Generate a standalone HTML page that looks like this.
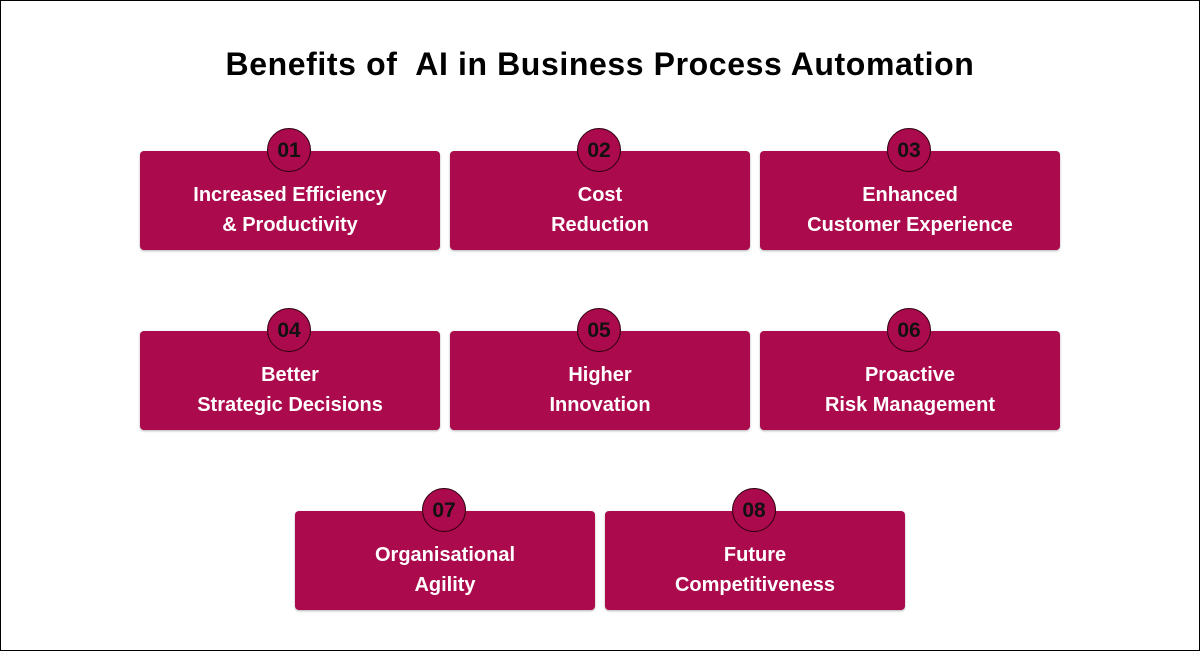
<!DOCTYPE html>
<html><head><meta charset="utf-8"><style>
html,body{margin:0;padding:0}
body{width:1200px;height:651px;position:relative;background:#fff;font-family:"Liberation Sans",sans-serif;overflow:hidden}
.frame{position:absolute;left:0;top:0;width:1198px;height:649px;border:1px solid #000}
h1{position:absolute;left:0;width:1200px;top:45px;margin:0;text-align:center;font-size:32px;font-weight:bold;color:#000;letter-spacing:0.6px;line-height:38px}
.box{position:absolute;width:300px;height:99px;background:#ab0a4c;border-radius:4px;color:#fff;font-weight:bold;font-size:20px;line-height:30px;text-align:center;box-sizing:border-box;padding-top:29px;box-shadow:0 1px 2px rgba(0,0,0,.3)}
.num{position:absolute;left:127px;top:-23px;width:44px;height:44px;border-radius:50%;background:#ab0a4c;border:1px solid #2a0010;box-sizing:border-box;color:#111;font-size:21px;line-height:44px;text-align:center}
</style></head><body>
<div class="frame"></div>
<h1>Benefits of&nbsp; AI in Business Process Automation</h1>
<div class="box" style="left:140px;top:151px"><div class="num">01</div>Increased Efficiency<br>&amp; Productivity</div>
<div class="box" style="left:450px;top:151px"><div class="num">02</div>Cost<br>Reduction</div>
<div class="box" style="left:760px;top:151px"><div class="num">03</div>Enhanced<br>Customer Experience</div>
<div class="box" style="left:140px;top:331px"><div class="num">04</div>Better<br>Strategic Decisions</div>
<div class="box" style="left:450px;top:331px"><div class="num">05</div>Higher<br>Innovation</div>
<div class="box" style="left:760px;top:331px"><div class="num">06</div>Proactive<br>Risk Management</div>
<div class="box" style="left:295px;top:511px"><div class="num">07</div>Organisational<br>Agility</div>
<div class="box" style="left:605px;top:511px"><div class="num">08</div>Future<br>Competitiveness</div>
</body></html>
